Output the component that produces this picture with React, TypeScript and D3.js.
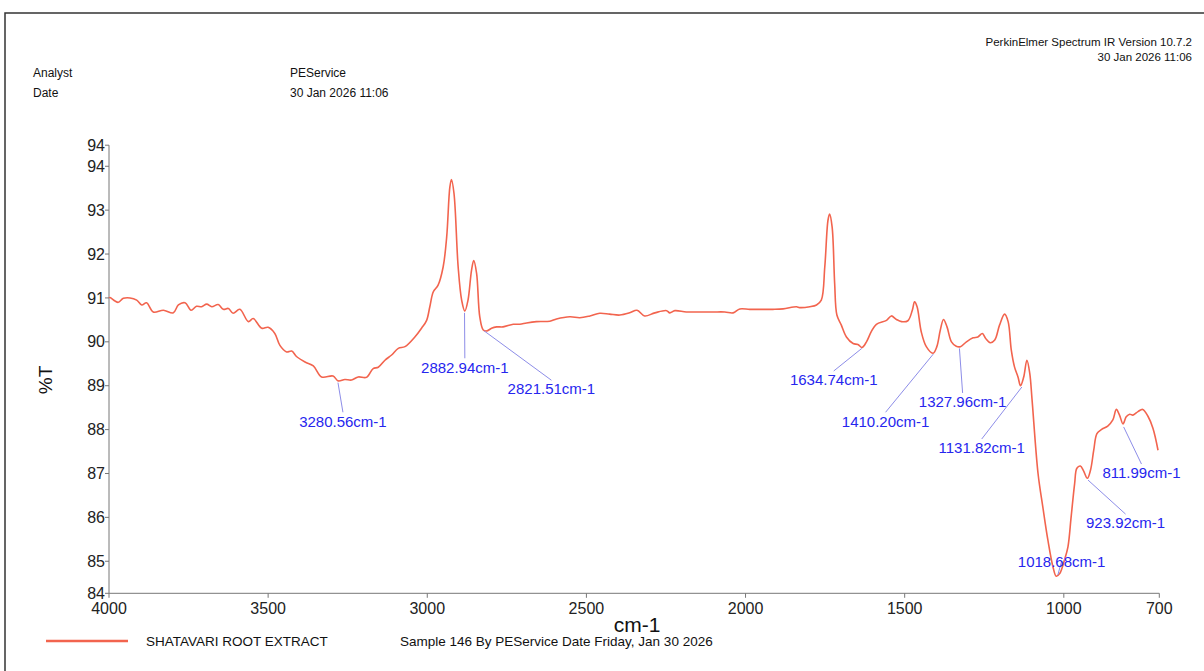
// App.tsx - FTIR spectrum (PerkinElmer style) drawn with d3 scales
import React from "react";
import * as d3 from "d3";

// wavenumber (cm-1) and %T
const wavenumbers = [
  4000, 3997, 3981, 3971, 3955, 3934, 3913, 3897, 3882, 3861, 3829, 3798, 3782, 3761, 3742, 3725,
  3709, 3693, 3677, 3657, 3641, 3625, 3610, 3589, 3562, 3547, 3520, 3500, 3479, 3463, 3442, 3426,
  3410, 3384, 3358, 3332, 3296, 3280, 3259, 3238, 3217, 3191, 3170, 3154, 3133, 3112, 3091, 3070,
  3039, 3018, 3002, 2992, 2981, 2966, 2950, 2939, 2929, 2924, 2916, 2903, 2892, 2882, 2872, 2861,
  2854, 2845, 2835, 2824, 2812, 2798, 2782, 2762, 2730, 2709, 2688, 2657, 2615, 2594, 2552, 2521,
  2489, 2458, 2427, 2395, 2364, 2341, 2317, 2285, 2248, 2238, 2222, 2186, 2144, 2102, 2065, 2039,
  2018, 1987, 1955, 1914, 1882, 1840, 1830, 1798, 1777, 1762, 1751, 1741, 1736, 1728, 1720, 1713,
  1699, 1683, 1662, 1647, 1634, 1620, 1605, 1589, 1557, 1542, 1526, 1510, 1490, 1476, 1469, 1461,
  1448, 1432, 1411, 1399, 1388, 1378, 1367, 1353, 1338, 1325, 1306, 1285, 1270, 1256, 1246, 1231,
  1217, 1202, 1186, 1175, 1165, 1155, 1144, 1136, 1126, 1116, 1107, 1100, 1081, 1066, 1050, 1034,
  1024, 1013, 998, 987, 977, 966, 959, 948, 938, 926, 916, 906, 896, 882, 862, 846,
  835, 825, 814, 804, 793, 783, 767, 752, 736, 720, 704,
];
const transmittance = [
  91.0, 91.01, 90.93, 90.9, 90.99, 91.0, 90.95, 90.84, 90.89, 90.68, 90.72, 90.66, 90.84, 90.89, 90.72, 90.81,
  90.8, 90.86, 90.8, 90.85, 90.74, 90.76, 90.65, 90.74, 90.46, 90.53, 90.31, 90.33, 90.19, 89.92, 89.77, 89.79,
  89.66, 89.54, 89.45, 89.2, 89.22, 89.11, 89.14, 89.13, 89.2, 89.19, 89.39, 89.42, 89.58, 89.7, 89.85, 89.89,
  90.11, 90.31, 90.49, 90.8, 91.14, 91.29, 91.71, 92.39, 93.53, 93.7, 93.38, 91.71, 90.95, 90.7, 90.95, 91.63,
  91.85, 91.56, 90.57, 90.27, 90.25, 90.31, 90.34, 90.34, 90.4, 90.4, 90.43, 90.46, 90.47, 90.52, 90.57, 90.55,
  90.59, 90.65, 90.63, 90.61, 90.66, 90.72, 90.59, 90.66, 90.71, 90.66, 90.71, 90.68, 90.68, 90.68, 90.68, 90.66,
  90.75, 90.74, 90.74, 90.74, 90.75, 90.8, 90.78, 90.8, 90.84, 90.95, 91.71, 92.77, 92.91, 92.62, 91.33, 90.61,
  90.38, 90.11, 89.96, 89.94, 89.87, 90.0, 90.23, 90.4, 90.49, 90.59, 90.51, 90.46, 90.48, 90.72, 90.91, 90.8,
  90.23, 89.89, 89.74, 89.89, 90.27, 90.51, 90.34, 90.0, 89.9, 89.89, 90.0, 90.09, 90.11, 90.19, 90.08, 89.98,
  90.04, 90.38, 90.63, 90.46, 89.81, 89.43, 89.2, 89.0, 89.2, 89.58, 89.28, 88.7, 87.0, 86.24, 85.48, 84.87,
  84.66, 84.72, 85.03, 85.33, 86.01, 86.77, 87.12, 87.17, 87.06, 86.89, 87.08, 87.53, 87.91, 88.0, 88.08, 88.22,
  88.46, 88.33, 88.13, 88.29, 88.35, 88.33, 88.41, 88.46, 88.31, 88.03, 87.53,
];

// peak labels: text, peak position, curve %T, label centre (cm-1, %T)
const peakLabels = ["3280.56cm-1", "2882.94cm-1", "2821.51cm-1", "1634.74cm-1", "1410.20cm-1", "1327.96cm-1", "1131.82cm-1", "1018.68cm-1", "923.92cm-1", "811.99cm-1"];
const peakWn = [3280.56, 2882.94, 2821.51, 1634.74, 1410.2, 1327.96, 1131.82, 1018.68, 923.92, 811.99];
const peakT = [89.07, 90.66, 90.25, 89.85, 89.72, 89.85, 88.97, 84.69, 86.85, 88.06];
const labelWn = [3265, 2882, 2610, 1723, 1560, 1318, 1258, 1007, 806, 756];
const labelT = [88.19, 89.42, 88.92, 89.13, 88.19, 88.63, 87.58, 85.0, 85.87, 87.01];

const xTicks = [4000, 3500, 3000, 2500, 2000, 1500, 1000, 700];
const yMin = 84.27;
const yMax = 94.48;
const yTicks = [yMin, 85, 86, 87, 88, 89, 90, 91, 92, 93, 94, yMax];

const W = 1204;
const H = 671;
const font = "'Liberation Sans', Arial, sans-serif";
const lineColor = "#f2644e";
const labelColor = "#2626ee";

const App: React.FC = () => {
  const x = d3.scaleLinear().domain([4000, 700]).range([109, 1159.3]);
  const y = d3.scaleLinear().domain([yMin, yMax]).range([593.3, 145.2]);

  const points: [number, number][] = wavenumbers.map((w, i) => [w, transmittance[i]]);
  const line = d3
    .line<[number, number]>()
    .x((d) => x(d[0]))
    .y((d) => y(d[1]))
    .curve(d3.curveCatmullRom.alpha(0.5));

  const [y0, y1] = y.range();
  const [x0, x1] = x.range();

  return (
    <svg width={W} height={H} style={{ position: "absolute", left: 0, top: 0, background: "#fff" }} fontFamily={font}>
      <rect x={0} y={0} width={W} height={H} fill="#fff" />
      {/* page frame */}
      <rect x={5} y={13} width={W + 20} height={H + 20} fill="none" stroke="#333" strokeWidth={1.5} />

      {/* header */}
      <g fontSize={12} fill="#111">
        <text x={33} y={77}>Analyst</text>
        <text x={33} y={97}>Date</text>
        <text x={290} y={77}>PEService</text>
        <text x={290} y={97}>30 Jan 2026 11:06</text>
      </g>
      <g fontSize={11.5} fill="#111" textAnchor="end">
        <text x={1192} y={46}>PerkinElmer Spectrum IR Version 10.7.2</text>
        <text x={1192} y={61}>30 Jan 2026 11:06</text>
      </g>

      {/* axes */}
      <g stroke="#777" strokeWidth={1}>
        <line x1={x0} x2={x0} y1={y0} y2={y1} />
        <line x1={x0} x2={x1} y1={y0} y2={y0} />
        {yTicks.map((t, i) => (
          <line key={"yt" + i} x1={x0 - 4} x2={x0} y1={y(t)} y2={y(t)} />
        ))}
        {xTicks.map((t) => (
          <line key={"xt" + t} x1={x(t)} x2={x(t)} y1={y0} y2={y0 + 4.5} />
        ))}
      </g>
      <g fontSize={16} fill="#222" textAnchor="end">
        {yTicks.map((t, i) => (
          <text key={"yl" + i} x={x0 - 4} y={y(t)} dy="0.35em">
            {d3.format(".0f")(Math.floor(t))}
          </text>
        ))}
      </g>
      <g fontSize={16} fill="#222" textAnchor="middle">
        {xTicks.map((t) => (
          <text key={"xl" + t} x={x(t)} y={614}>
            {t}
          </text>
        ))}
      </g>
      <text x={637} y={632} fontSize={21} textAnchor="middle" fill="#111">cm-1</text>
      <text transform="translate(52,380) rotate(-90)" fontSize={19} textAnchor="middle" fill="#111">%T</text>

      {/* spectrum */}
      <path d={line(points) ?? ""} fill="none" stroke={lineColor} strokeWidth={1.6} strokeLinejoin="round" />

      {/* peak annotations */}
      <g>
        {peakLabels.map((lab, i) => {
          const px = x(peakWn[i]);
          const py = y(peakT[i]);
          const lx = x(labelWn[i]);
          const ly = y(labelT[i]);
          const ey = ly > py ? ly - 9 : ly;
          return (
            <g key={lab}>
              <line x1={px} y1={py} x2={lx} y2={ey} stroke="#8d8de8" strokeWidth={1} />
              <text x={lx} y={ly} dy="0.35em" textAnchor="middle" fontSize={15} fill={labelColor}>
                {lab}
              </text>
            </g>
          );
        })}
      </g>

      {/* legend */}
      <line x1={46} x2={128} y1={641} y2={641} stroke={lineColor} strokeWidth={2.5} />
      <g fontSize={13.5} fill="#111">
        <text x={146} y={646}>SHATAVARI ROOT EXTRACT</text>
        <text x={400} y={646}>Sample 146 By PEService Date Friday, Jan 30 2026</text>
      </g>
    </svg>
  );
};

export default App;
